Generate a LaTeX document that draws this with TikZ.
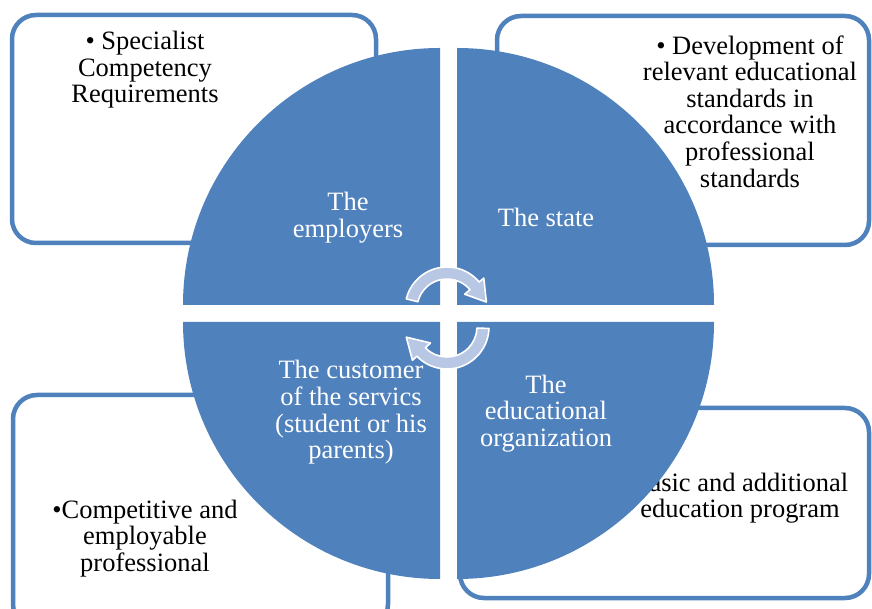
\documentclass[tikz,border=0pt]{standalone}
\usepackage{fontspec}
\setmainfont{Liberation Serif}
\usetikzlibrary{calc}
\definecolor{pieblue}{RGB}{79,129,189}
\definecolor{arrowblue}{RGB}{184,199,228}
\tikzset{
  boxframe/.style={draw=pieblue, line width=4.5pt, rounded corners=24pt, fill=white},
  piepart/.style={fill=pieblue},
  boxtext/.style={align=center, text=black, font=\fontsize{26.5}{26.6}\selectfont, inner sep=0pt},
  pietext/.style={align=center, text=white, font=\fontsize{26.5}{26.6}\selectfont, inner sep=0pt},
  cyclearrow/.style={fill=arrowblue, draw=white, line width=1.6pt, line join=round}
}
\begin{document}
\begin{tikzpicture}[x=1pt,y=1pt]
\useasboundingbox (0,0) rectangle (872,608);
% boxes
\draw[boxframe] (12,365) rectangle (376,593);
\draw[boxframe] (497,363) rectangle (869,592);
\draw[boxframe] (13,-20) rectangle (388,213);
\draw[boxframe] (460,10) rectangle (869,200);
% box texts
\node[boxtext] (t1) at (145,538) {• Specialist\\Competency\\Requirements};
\node[boxtext] (t2) at (750,496.5) {• Development of\\relevant educational\\standards in\\accordance with\\professional\\standards};
\node[boxtext] (t3) at (145,69.5) {•Competitive and\\employable\\professional};
\node[boxtext] (t4) at (740,110) {Basic and additional\\education program};
% pies
\coordinate (ctl) at (440,303);
\coordinate (ctr) at (457,303);
\coordinate (cbl) at (440,286);
\coordinate (cbr) at (457,286);
\fill[piepart] (ctl) -- ++(-257,0) arc[start angle=180, end angle=90, radius=257] -- cycle;
\fill[piepart] (ctr) -- ++(0,257) arc[start angle=90, end angle=0, radius=257] -- cycle;
\fill[piepart] (cbl) -- ++(0,-257) arc[start angle=270, end angle=180, radius=257] -- cycle;
\fill[piepart] (cbr) -- ++(257,0) arc[start angle=0, end angle=-90, radius=257] -- cycle;
% pie texts
\node[pietext] (p1) at (348,390.5) {The\\employers};
\node[pietext] (p2) at (546,390.5) {The state};
\node[pietext] (p3) at (351,195.5) {The customer\\of the servics\\(student or his\\parents)};
\node[pietext] (p4) at (546,194.5) {The\\educational\\organization};
% cycle arrows
\coordinate (U) at (447,299);
\coordinate (L) at (447,281);
\draw[cyclearrow] ($(U)+(166:42)$) arc[start angle=166, end angle=40, radius=42]
  -- ($(U)+(40:48)$) -- ($(U)+(10:40)$) -- ($(U)+(40:23)$) -- ($(U)+(40:30)$)
  arc[start angle=40, end angle=166, radius=30] -- cycle;
\draw[cyclearrow] ($(L)+(-2:42)$) arc[start angle=-2, end angle=-136, radius=42]
  -- ($(L)+(-136:48)$) -- ($(L)+(-166:42)$) -- ($(L)+(-136:23)$) -- ($(L)+(-136:30)$)
  arc[start angle=-136, end angle=-2, radius=30] -- cycle;
\end{tikzpicture}
\end{document}
